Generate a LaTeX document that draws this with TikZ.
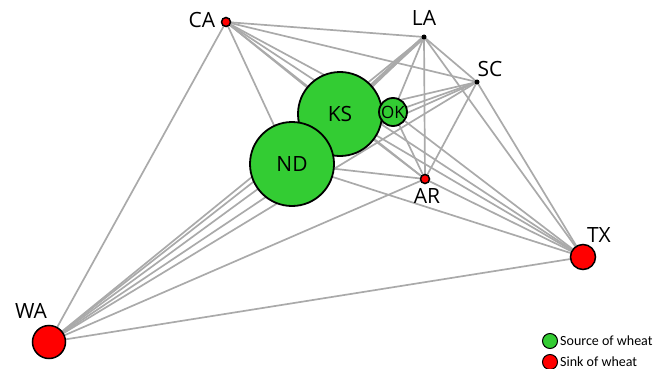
\documentclass[tikz,border=0pt]{standalone}
\usepackage{fontspec}
\setmainfont{Open Sans}
\newfontfamily\legfont{Carlito}
\definecolor{edgegray}{RGB}{170,170,170}
\definecolor{srcgreen}{RGB}{51,204,51}
\definecolor{sinkred}{RGB}{255,0,0}
\begin{document}
\begin{tikzpicture}[x=1pt,y=-1pt,
  edge/.style={draw=edgegray,line width=1.7pt},
  src/.style={circle,fill=srcgreen,draw=black,line width=1.8pt,inner sep=0pt,minimum size=#1},
  sink/.style={circle,fill=sinkred,draw=black,line width=1.5pt,inner sep=0pt,minimum size=#1},
  dotnode/.style={circle,fill=black,inner sep=0pt,minimum size=5pt},
  lbl/.style={font=\fontsize{21}{21}\selectfont,inner sep=0pt},
  leg/.style={font=\legfont\fontsize{14}{14}\selectfont,anchor=west,inner sep=0pt}]
\useasboundingbox (0,0) rectangle (659,369);
\coordinate (pCA) at (226,22);
\coordinate (pLA) at (424,37);
\coordinate (pSC) at (477,82);
\coordinate (pKS) at (340,114);
\coordinate (pOK) at (393,112);
\coordinate (pND) at (292,164);
\coordinate (pAR) at (425,179);
\coordinate (pTX) at (583,257);
\coordinate (pWA) at (49,342);
% edges
\foreach \a/\b in {CA/LA,CA/SC,CA/KS,CA/OK,CA/ND,CA/AR,CA/TX,CA/WA,
  LA/SC,LA/OK,LA/ND,LA/AR,LA/TX,LA/WA,
  SC/KS,SC/OK,SC/ND,SC/AR,SC/TX,SC/WA,
  KS/OK,KS/ND,KS/AR,KS/TX,KS/WA,
  OK/ND,OK/AR,OK/TX,OK/WA,
  ND/AR,ND/TX,ND/WA,
  AR/TX,AR/WA,TX/WA}
  \draw[edge] (p\a) -- (p\b);
\draw[edge,line width=3.5pt] (pKS) -- (pLA);
% nodes
\node[src=84pt] (KS) at (pKS) {};
\node[src=84pt] (ND) at (pND) {};
\node[src=28pt] (OK) at (pOK) {};
\node[sink=9pt] (CA) at (pCA) {};
\node[sink=9pt] (AR) at (pAR) {};
\node[sink=25pt] (TX) at (pTX) {};
\node[sink=33pt] (WA) at (pWA) {};
\node[dotnode] (LA) at (pLA) {};
\node[dotnode] (SC) at (pSC) {};
% labels
\node[lbl] (tKS) at (pKS) {KS};
\node[lbl] (tND) at (pND) {ND};
\node[lbl,font=\fontsize{17}{17}\selectfont] (tOK) at (pOK) {OK};
\node[lbl] (tCA) at (202,20) {CA};
\node[lbl] (tLA) at (424,18) {LA};
\node[lbl] (tSC) at (490,69) {SC};
\node[lbl] (tAR) at (427,196) {AR};
\node[lbl] (tTX) at (599,235) {TX};
\node[lbl] (tWA) at (31,311) {WA};
% legend
\node[src=15pt,line width=1pt] (lg1) at (550,341) {};
\node[sink=15pt,line width=1pt] (lg2) at (550,362) {};
\node[leg] (lt1) at (560,341) {Source of wheat};
\node[leg] (lt2) at (560,362) {Sink of wheat};
\end{tikzpicture}
\end{document}
